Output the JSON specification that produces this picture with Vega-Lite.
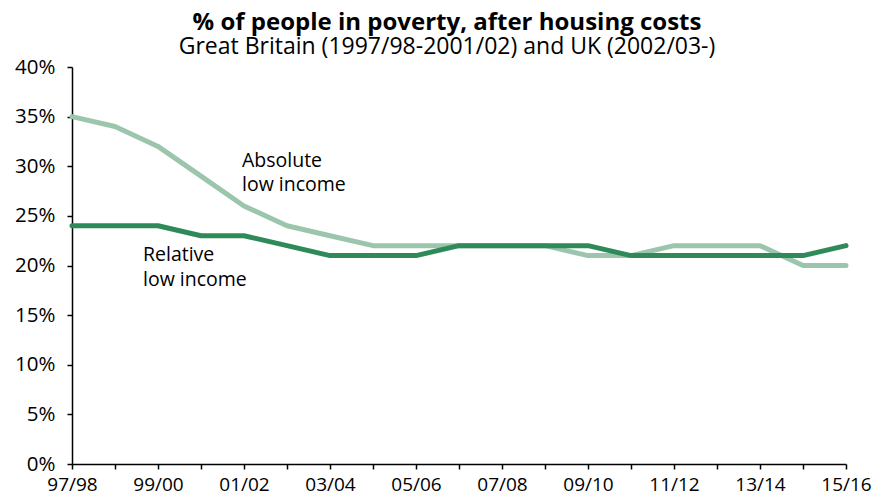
{
  "$schema": "https://vega.github.io/schema/vega-lite/v6.json",
  "width": 774,
  "height": 397,
  "autosize": {"type": "none"},
  "padding": {"left": 72, "top": 67, "right": 29, "bottom": 36},
  "background": "white",
  "config": {
    "font": "Open Sans",
    "view": {"stroke": null},
    "axis": {"grid": false, "domainColor": "black", "tickColor": "black", "labelColor": "black", "labelFontSize": 19, "labelFont": "Open Sans", "domainWidth": 1.5, "tickWidth": 1.5, "tickSize": 5, "title": null}
  },
  "title": {
    "text": "% of people in poverty, after housing costs",
    "subtitle": "Great Britain (1997/98-2001/02) and UK (2002/03-)",
    "fontSize": 24,
    "fontWeight": "bold",
    "subtitleFontSize": 23,
    "subtitleColor": "black",
    "color": "black",
    "anchor": "middle",
    "dx": -12,
    "offset": -2,
    "subtitlePadding": 1,
    "font": "Open Sans",
    "subtitleFont": "Open Sans"
  },
  "datasets": {
    "series": [
      {"year": "97/98", "measure": "Absolute", "value": 35},
      {"year": "98/99", "measure": "Absolute", "value": 34},
      {"year": "99/00", "measure": "Absolute", "value": 32},
      {"year": "00/01", "measure": "Absolute", "value": 29},
      {"year": "01/02", "measure": "Absolute", "value": 26},
      {"year": "02/03", "measure": "Absolute", "value": 24},
      {"year": "03/04", "measure": "Absolute", "value": 23},
      {"year": "04/05", "measure": "Absolute", "value": 22},
      {"year": "05/06", "measure": "Absolute", "value": 22},
      {"year": "06/07", "measure": "Absolute", "value": 22},
      {"year": "07/08", "measure": "Absolute", "value": 22},
      {"year": "08/09", "measure": "Absolute", "value": 22},
      {"year": "09/10", "measure": "Absolute", "value": 21},
      {"year": "10/11", "measure": "Absolute", "value": 21},
      {"year": "11/12", "measure": "Absolute", "value": 22},
      {"year": "12/13", "measure": "Absolute", "value": 22},
      {"year": "13/14", "measure": "Absolute", "value": 22},
      {"year": "14/15", "measure": "Absolute", "value": 20},
      {"year": "15/16", "measure": "Absolute", "value": 20},
      {"year": "97/98", "measure": "Relative", "value": 24},
      {"year": "98/99", "measure": "Relative", "value": 24},
      {"year": "99/00", "measure": "Relative", "value": 24},
      {"year": "00/01", "measure": "Relative", "value": 23},
      {"year": "01/02", "measure": "Relative", "value": 23},
      {"year": "02/03", "measure": "Relative", "value": 22},
      {"year": "03/04", "measure": "Relative", "value": 21},
      {"year": "04/05", "measure": "Relative", "value": 21},
      {"year": "05/06", "measure": "Relative", "value": 21},
      {"year": "06/07", "measure": "Relative", "value": 22},
      {"year": "07/08", "measure": "Relative", "value": 22},
      {"year": "08/09", "measure": "Relative", "value": 22},
      {"year": "09/10", "measure": "Relative", "value": 22},
      {"year": "10/11", "measure": "Relative", "value": 21},
      {"year": "11/12", "measure": "Relative", "value": 21},
      {"year": "12/13", "measure": "Relative", "value": 21},
      {"year": "13/14", "measure": "Relative", "value": 21},
      {"year": "14/15", "measure": "Relative", "value": 21},
      {"year": "15/16", "measure": "Relative", "value": 22}
    ],
    "labels": [
      {"year": "01/02", "value": 31.4, "label": "Absolute\nlow income", "series": "Absolute"},
      {"year": "99/00", "value": 22.0, "label": "Relative\nlow income", "series": "Relative"}
    ]
  },
  "layer": [
    {
      "data": {"name": "series"},
      "mark": {"type": "line", "strokeWidth": 5, "strokeCap": "round", "strokeJoin": "round"},
      "encoding": {
        "x": {
          "field": "year", "type": "ordinal",
          "scale": {"type": "point", "padding": 0},
          "sort": null,
          "axis": {"labelAngle": 0, "labelPadding": 6, "labelExpr": "indexof(['97/98','99/00','01/02','03/04','05/06','07/08','09/10','11/12','13/14','15/16'], datum.label) >= 0 ? datum.label : ''"}
        },
        "y": {
          "field": "value", "type": "quantitative",
          "scale": {"domain": [0, 40]},
          "axis": {"values": [0, 5, 10, 15, 20, 25, 30, 35, 40], "labelExpr": "datum.value + '%'", "labelPadding": 12, "labelFontSize": 20.5}
        },
        "color": {
          "field": "measure", "type": "nominal",
          "scale": {"domain": ["Absolute", "Relative"], "range": ["#9cc5ad", "#2f8a5a"]},
          "legend": null
        },
        "order": {"field": "measure"}
      }
    },
    {
      "data": {"name": "labels"},
      "transform": [{"filter": "datum.series == 'Absolute'"}],
      "mark": {"type": "text", "align": "left", "baseline": "top", "lineBreak": "\n", "fontSize": 19.5, "lineHeight": 24, "color": "black", "dx": -2},
      "encoding": {
        "x": {"field": "year", "type": "ordinal", "sort": null},
        "y": {"field": "value", "type": "quantitative"},
        "text": {"field": "label"}
      }
    },
    {
      "data": {"name": "labels"},
      "transform": [{"filter": "datum.series == 'Relative'"}],
      "mark": {"type": "text", "align": "left", "baseline": "top", "lineBreak": "\n", "fontSize": 19.5, "lineHeight": 25, "color": "black", "dx": -15},
      "encoding": {
        "x": {"field": "year", "type": "ordinal", "sort": null},
        "y": {"field": "value", "type": "quantitative"},
        "text": {"field": "label"}
      }
    }
  ]
}
